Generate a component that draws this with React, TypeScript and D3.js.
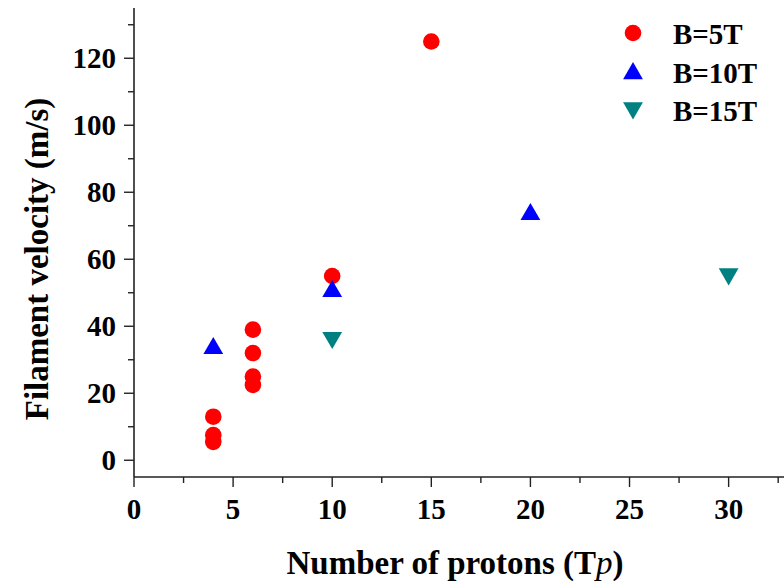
import React, { useRef, useEffect } from "react";
import * as d3 from "d3";

// B=5T red circles
const b5x = [4, 4, 4, 6, 6, 6, 6, 10, 15];
const b5y = [5.5, 7.5, 13, 22.5, 25, 32, 39, 55, 125];
// B=10T blue triangles
const b10x = [4, 10, 20];
const b10y = [34, 51, 74];
// B=15T teal down triangles
const b15x = [10, 30];
const b15y = [36, 55];

const xTicks = [0, 5, 10, 15, 20, 25, 30];
const yTicks = [0, 20, 40, 60, 80, 100, 120];

const W = 784;
const H = 581;
const FONT = "'Liberation Serif', 'Times New Roman', serif";

function App() {
  const svgRef = useRef<SVGSVGElement>(null);

  useEffect(() => {
    const svg = d3.select(svgRef.current);
    svg.selectAll("*").remove();

    const x = d3.scaleLinear().domain([0, 33.5]).range([134, 798]);
    const y = d3.scaleLinear().domain([-5, 135]).range([477, 8]);

    const axisColor = "#222";

    // y axis
    svg.append("line")
      .attr("x1", x(0)).attr("x2", x(0))
      .attr("y1", y(-5)).attr("y2", y(135))
      .attr("stroke", axisColor).attr("stroke-width", 1.6);
    d3.range(0, 131, 10).forEach((v) => {
      const major = v % 20 === 0;
      svg.append("line")
        .attr("x1", x(0) - (major ? 10 : 6)).attr("x2", x(0))
        .attr("y1", y(v)).attr("y2", y(v))
        .attr("stroke", axisColor).attr("stroke-width", 1.4);
    });
    svg.selectAll(".ytick")
      .data(yTicks)
      .enter()
      .append("text")
      .attr("x", x(0) - 18)
      .attr("y", (d) => y(d))
      .attr("dy", "0.35em")
      .attr("text-anchor", "end")
      .style("font-family", FONT)
      .style("font-weight", "bold")
      .style("font-size", "29px")
      .text((d) => d);

    // x axis
    svg.append("line")
      .attr("x1", x(0)).attr("x2", x(33.5))
      .attr("y1", y(-5)).attr("y2", y(-5))
      .attr("stroke", axisColor).attr("stroke-width", 1.6);
    d3.range(0, 33.5, 2.5).forEach((v) => {
      const major = v % 5 === 0;
      svg.append("line")
        .attr("x1", x(v)).attr("x2", x(v))
        .attr("y1", y(-5)).attr("y2", y(-5) + (major ? 10 : 6))
        .attr("stroke", axisColor).attr("stroke-width", 1.4);
    });
    svg.selectAll(".xtick")
      .data(xTicks)
      .enter()
      .append("text")
      .attr("x", (d) => x(d))
      .attr("y", 519)
      .attr("text-anchor", "middle")
      .style("font-family", FONT)
      .style("font-weight", "bold")
      .style("font-size", "29px")
      .text((d) => d);

    // axis titles
    const xt = svg.append("text")
      .attr("x", 455)
      .attr("y", 574)
      .attr("text-anchor", "middle")
      .style("font-family", FONT)
      .style("font-weight", "bold")
      .style("font-size", "33px");
    xt.append("tspan").text("Number of protons (T");
    xt.append("tspan")
      .style("font-style", "italic")
      .style("font-weight", "normal")
      .text("p");
    xt.append("tspan").text(")");

    svg.append("text")
      .attr("transform", "translate(48,259) rotate(-90)")
      .attr("text-anchor", "middle")
      .style("font-family", FONT)
      .style("font-weight", "bold")
      .style("font-size", "33px")
      .text("Filament velocity (m/s)");

    const tri = d3.symbol().type(d3.symbolTriangle).size(170);
    const triPath = (cx: number, cy: number, down: boolean) =>
      `translate(${cx},${cy + (down ? -2 : 2)}) rotate(${down ? 180 : 0})`;

    // data
    svg.selectAll(".b5")
      .data(b5x.map((v, i) => [v, b5y[i]]))
      .enter()
      .append("circle")
      .attr("cx", (d) => x(d[0]))
      .attr("cy", (d) => y(d[1]))
      .attr("r", 8.3)
      .attr("fill", "#ff0000");

    svg.selectAll(".b10")
      .data(b10x.map((v, i) => [v, b10y[i]]))
      .enter()
      .append("path")
      .attr("d", tri)
      .attr("transform", (d) => triPath(x(d[0]), y(d[1]), false))
      .attr("fill", "#0000ff");

    svg.selectAll(".b15")
      .data(b15x.map((v, i) => [v, b15y[i]]))
      .enter()
      .append("path")
      .attr("d", tri)
      .attr("transform", (d) => triPath(x(d[0]), y(d[1]), true))
      .attr("fill", "#008080");

    // legend
    const legend = [
      { label: "B=5T", color: "#ff0000", kind: "circle" },
      { label: "B=10T", color: "#0000ff", kind: "up" },
      { label: "B=15T", color: "#008080", kind: "down" },
    ];
    legend.forEach((l, i) => {
      const cy = 33 + i * 38.5;
      if (l.kind === "circle") {
        svg.append("circle").attr("cx", 633).attr("cy", cy).attr("r", 8.3).attr("fill", l.color);
      } else {
        svg.append("path")
          .attr("d", tri)
          .attr("transform", triPath(633, cy, l.kind === "down"))
          .attr("fill", l.color);
      }
      svg.append("text")
        .attr("x", 673)
        .attr("y", cy + 11)
        .style("font-family", FONT)
        .style("font-weight", "bold")
        .style("font-size", "29px")
        .text(l.label);
    });
  }, []);

  return (
    <svg
      ref={svgRef}
      width={W}
      height={H}
      style={{ position: "absolute", left: 0, top: 0, background: "#fff" }}
    ></svg>
  );
}

export default App;
